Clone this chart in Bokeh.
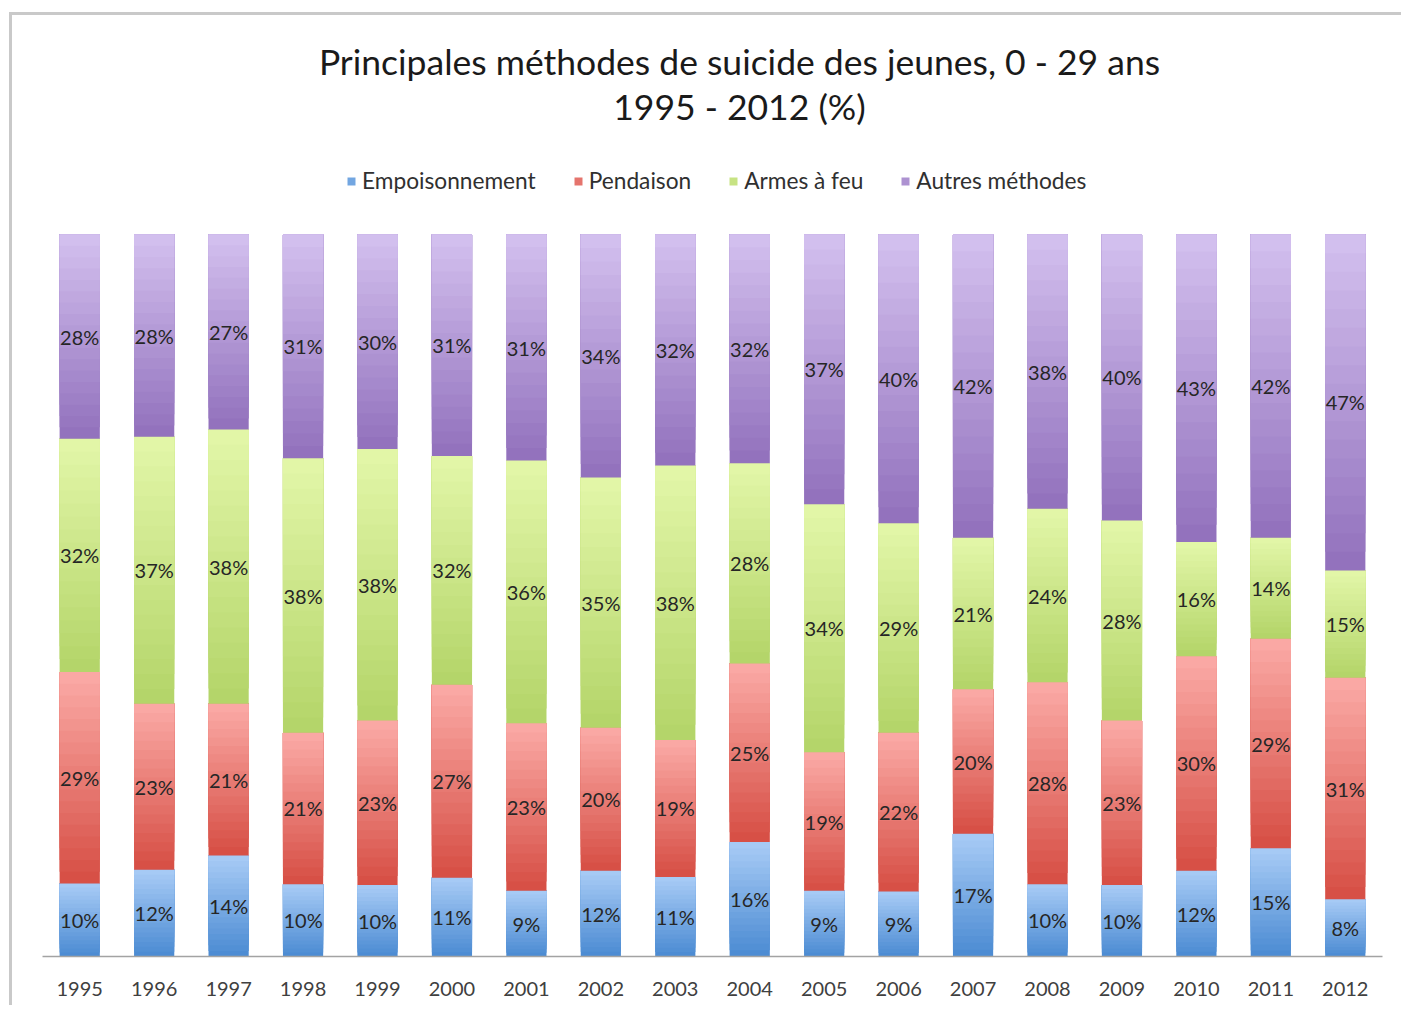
from bokeh.plotting import figure
from bokeh.models import ColumnDataSource, Legend, LegendItem, Label, FactorRange, Range1d
from bokeh.core.properties import value
from bokeh.embed import file_html
from bokeh.resources import INLINE

years = ["1995", "1996", "1997", "1998", "1999", "2000", "2001", "2002", "2003",
         "2004", "2005", "2006", "2007", "2008", "2009", "2010", "2011", "2012"]
series_names = ["Empoisonnement", "Pendaison", "Armes à feu", "Autres méthodes"]
empoisonnement = [10, 12, 14, 10, 10, 11, 9, 12, 11, 16, 9, 9, 17, 10, 10, 12, 15, 8]
pendaison = [29, 23, 21, 21, 23, 27, 23, 20, 19, 25, 19, 22, 20, 28, 23, 30, 29, 31]
armes_a_feu = [32, 37, 38, 38, 38, 32, 36, 35, 38, 28, 34, 29, 21, 24, 28, 16, 14, 15]
autres_methodes = [28, 28, 27, 31, 30, 31, 31, 34, 32, 32, 37, 40, 42, 38, 40, 43, 42, 47]
series_values = [empoisonnement, pendaison, armes_a_feu, autres_methodes]
title_lines = ["Principales méthodes de suicide des jeunes, 0 - 29 ans", "1995 - 2012 (%)"]

top_colors = ["#a9ccf6", "#fbaba7", "#e3f7a9", "#d4c1ef"]
bottom_colors = ["#4a8ad2", "#d64d43", "#b3d468", "#9170bc"]
N_STRIPS = 18

# layout (pixels)
W, H = 1392, 993
FRAME_L, FRAME_R, FRAME_B = 30, 22, 52
BAR_AREA_PX = 722
frame_h = H - FRAME_B


def hex_to_rgb(h):
    h = h.lstrip("#")
    return tuple(int(h[i:i + 2], 16) for i in (0, 2, 4))


def mix(c1, c2, f):
    a, b = hex_to_rgb(c1), hex_to_rgb(c2)
    return "#%02x%02x%02x" % tuple(int(round(a[i] + (b[i] - a[i]) * f)) for i in range(3))


totals = [sum(v[i] for v in series_values) for i in range(len(years))]

p = figure(x_range=FactorRange(*years, range_padding=0),
           y_range=Range1d(0, frame_h / BAR_AREA_PX),
           width=W, height=H, output_backend="svg", toolbar_location=None,
           y_axis_location=None, min_border_left=FRAME_L, min_border_right=FRAME_R,
           min_border_top=0, min_border_bottom=FRAME_B)
p.styles = {"border-top": "3px solid #c9c9c9", "border-left": "3px solid #c9c9c9",
            "margin-top": "12px", "margin-left": "9px"}
p.outline_line_color = None
p.grid.visible = False
p.background_fill_color = "white"
p.border_fill_color = "white"

renderers = []
lab_x, lab_y, lab_t = [], [], []
cum = [0.0] * len(years)
for s, vals in enumerate(series_values):
    xs, bs, ts, cs = [], [], [], []
    for i, yr in enumerate(years):
        b = cum[i] / totals[i]
        t = (cum[i] + vals[i]) / totals[i]
        for k in range(N_STRIPS):
            xs.append(yr)
            bs.append(b + (t - b) * k / N_STRIPS)
            ts.append(t)
            cs.append(mix(bottom_colors[s], top_colors[s], (k + 0.5) / N_STRIPS))
        lab_x.append(yr)
        lab_y.append((b + t) / 2)
        lab_t.append("%d%%" % vals[i])
        cum[i] += vals[i]
    src = ColumnDataSource(dict(x=xs, b=bs, t=ts, c=cs))
    r = p.vbar(x="x", bottom="b", top="t", width=0.54, fill_color="c", line_color=None, source=src)
    renderers.append(r)

lab_src = ColumnDataSource(dict(x=lab_x, y=lab_y, t=lab_t))
p.text(x="x", y="y", text="t", source=lab_src, text_align="center", text_baseline="middle",
       text_font=value("Lato"), text_font_size="20px", text_color="#262626")

p.xaxis.axis_line_color = "#a3a3a3"
p.xaxis.axis_line_width = 1.5
p.xaxis.major_tick_line_color = None
p.xaxis.minor_tick_line_color = None
p.xaxis.major_label_standoff = 19
p.xaxis.major_label_text_font = "Lato"
p.xaxis.major_label_text_font_size = "20px"
p.xaxis.major_label_text_color = "#404040"

legend = Legend(items=[LegendItem(label=series_names[s], renderers=[renderers[s]], index=7)
                       for s in range(4)],
                orientation="horizontal", location=(304, frame_h - 166 - 13),
                glyph_width=10, glyph_height=10,
                label_standoff=6, spacing=37, padding=0, margin=0, label_height=26,
                label_text_font="Lato", label_text_font_size="22.7px", label_text_color="#303030",
                border_line_color=None, background_fill_alpha=0)
p.add_layout(legend, "center")

for line, yc in zip(title_lines, [46, 91]):
    p.add_layout(Label(x=697, y=frame_h - yc, x_units="screen", y_units="screen",
                       text=line, text_align="center", text_baseline="middle",
                       text_font="Lato", text_font_size="35.5px", text_color="#1a1a1a"))

open("out.html", "w").write(file_html(p, INLINE))
